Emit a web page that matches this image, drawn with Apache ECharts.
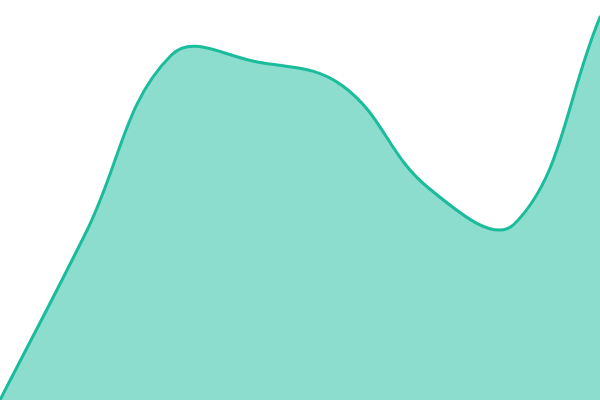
<!DOCTYPE html>
<html>
<head>
<meta charset="utf-8">
<script src="https://cdn.jsdelivr.net/npm/echarts@6/dist/echarts.min.js"></script>
<style>html,body{margin:0;padding:0;background:#fff}#c{width:600px;height:400px}</style>
</head>
<body>
<div id="c"></div>
<script>
const categories = ['1', '2', '3', '4', '5', '6', '7', '8'];
const values = [0, 167, 345, 338, 314, 212, 176, 383];

const TENSION = 0.4;

function controlPoints(prev, cur, next, t) {
  const d01 = Math.hypot(cur[0] - prev[0], cur[1] - prev[1]);
  const d12 = Math.hypot(next[0] - cur[0], next[1] - cur[1]);
  let s01 = d01 / (d01 + d12);
  let s12 = d12 / (d01 + d12);
  if (!isFinite(s01)) s01 = 0;
  if (!isFinite(s12)) s12 = 0;
  const fa = t * s01, fb = t * s12;
  return {
    prev: [cur[0] - fa * (next[0] - prev[0]), cur[1] - fa * (next[1] - prev[1])],
    next: [cur[0] + fb * (next[0] - prev[0]), cur[1] + fb * (next[1] - prev[1])]
  };
}

function renderCurve(params, api) {
  if (params.dataIndex !== 0) return null;
  const cs = params.coordSys;
  const clamp = (p) => [
    Math.min(Math.max(p[0], cs.x), cs.x + cs.width),
    Math.min(Math.max(p[1], cs.y), cs.y + cs.height)
  ];
  const pts = values.map((v, i) => api.coord([i, v]));
  const base = api.coord([0, 0])[1];
  const cps = pts.map((p, i) => {
    const prev = pts[i - 1] || p;
    const next = pts[i + 1] || p;
    const c = controlPoints(prev, p, next, TENSION);
    return { prev: clamp(c.prev), next: clamp(c.next) };
  });
  let d = 'M' + pts[0][0] + ' ' + pts[0][1];
  for (let i = 1; i < pts.length; i++) {
    const a = cps[i - 1].next, b = cps[i].prev, p = pts[i];
    d += ' C' + a[0] + ' ' + a[1] + ' ' + b[0] + ' ' + b[1] + ' ' + p[0] + ' ' + p[1];
  }
  const last = pts[pts.length - 1];
  const area = d + ' L' + last[0] + ' ' + base + ' L' + pts[0][0] + ' ' + base + ' Z';
  return {
    type: 'group',
    children: [
      { type: 'path', shape: { pathData: area }, style: { fill: 'rgba(26,188,156,0.5)', stroke: 'none' } },
      { type: 'path', shape: { pathData: d }, style: { fill: 'none', stroke: '#1abc9c', lineWidth: 3, lineJoin: 'round', lineCap: 'round' } }
    ]
  };
}

const chart = echarts.init(document.getElementById('c'));
chart.setOption({
  animation: false,
  grid: { left: 0, right: 0, top: 0, bottom: 0 },
  xAxis: { type: 'category', data: categories, boundaryGap: false, show: false },
  yAxis: { type: 'value', min: 0, max: 400, show: false },
  series: [{
    type: 'custom',
    data: values.map((v, i) => [i, v]),
    encode: { x: 0, y: 1 },
    renderItem: renderCurve
  }]
});
</script>
</body>
</html>
